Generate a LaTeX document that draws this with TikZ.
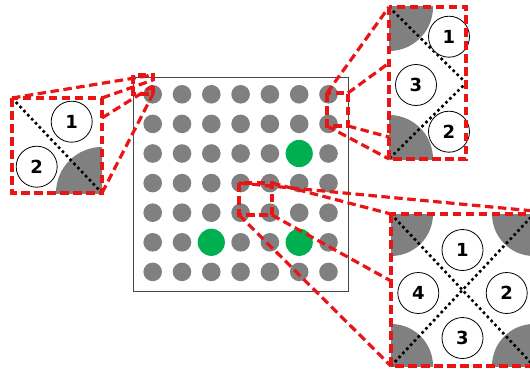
\documentclass[tikz,border=0pt]{standalone}
\usepackage{fontspec}
\setmainfont{DejaVu Sans}
\definecolor{dotgrey}{RGB}{128,128,128}
\definecolor{dotgreen}{RGB}{0,176,80}
\definecolor{zoomred}{RGB}{235,20,20}
\definecolor{frame}{RGB}{70,70,70}
\begin{document}
\begin{tikzpicture}[x=1pt,y=-1pt,
  reddash/.style={draw=zoomred,line width=3.2pt,dash pattern=on 8.5pt off 4.5pt},
  blackdots/.style={draw=black,line width=2.6pt,dash pattern=on 2.6pt off 3pt},
  numc/.style={circle,draw=black,line width=0.8pt,fill=white,minimum size=41pt,inner sep=0pt,
    font=\fontsize{18}{18}\selectfont\bfseries},
  greydot/.style={fill=dotgrey},
  greendot/.style={fill=dotgreen}]
\useasboundingbox (0,0) rectangle (530,369);
% main square
\draw[frame,line width=0.8pt] (133,77) rectangle (348,291);
\foreach \i in {0,...,6}{\foreach \j in {0,...,6}{
  \fill[greydot] ({152.7+29.3*\i},{94.3+29.6*\j}) circle (9.3);}}
\fill[greendot] (299.2,153.5) circle (13.6);
\fill[greendot] (211.3,242.3) circle (13.6);
\fill[greendot] (299.2,242.3) circle (13.6);

% ---------- left inset ----------
\coordinate (LTL) at (12,98); \coordinate (LTR) at (102,98);
\coordinate (LBR) at (102,193); \coordinate (LBL) at (12,193);
\coordinate (LR1) at (102,118);
\coordinate (sLTL) at (133,75); \coordinate (sLTR) at (153,75);
\coordinate (sLBR) at (153,94); \coordinate (sLBL) at (133,94);
\coordinate (sLR1) at (153,80); \coordinate (sLR2) at (153,86);
\begin{scope}
  \clip (LTL) rectangle (LBR);
  \fill[greydot] (LBR) circle (46);
\end{scope}
\draw[blackdots] (LTL) -- (LBR);
\node[numc] (l1) at (71.7,121.7) {1};
\node[numc] (l2) at (36.7,166.7) {2};
\draw[reddash] (LTL) rectangle (LBR);
\draw[reddash] (sLTL) rectangle (sLBR);
\draw[reddash] (LTL) -- (sLTR);
\draw[reddash] (LTR) -- (sLR1);
\draw[reddash] (LR1) -- (sLR2);
\draw[reddash] (LBR) -- (sLBR);

% ---------- top-right inset ----------
\coordinate (TTL) at (389,7); \coordinate (TTR) at (466,7);
\coordinate (TBR) at (466,159); \coordinate (TBL) at (389,159);
\coordinate (TRM) at (466,83);
\coordinate (TL1) at (389,63); \coordinate (TL2) at (389,137);
\coordinate (sTTL) at (327,93); \coordinate (sTTR) at (348,93);
\coordinate (sTBR) at (348,126); \coordinate (sTBL) at (327,126);
\begin{scope}
  \clip (TTL) rectangle (TBR);
  \fill[greydot] (TTL) circle (44);
  \fill[greydot] (TBL) circle (44);
\end{scope}
\draw[blackdots] (TTL) -- (TRM) -- (TBL);
\node[numc] (t1) at (449,36.7) {1};
\node[numc] (t3) at (416,85) {3};
\node[numc] (t2) at (449,131.7) {2};
\draw[reddash] (TTL) rectangle (TBR);
\draw[reddash] (sTTL) rectangle (sTBR);
\draw[reddash] (sTTL) -- (TTL);
\draw[reddash] (sTTR) -- (TL1);
\draw[reddash] (sTBR) -- (TL2);
\draw[reddash] (sTBL) -- (TBL);

% ---------- bottom-right inset ----------
\coordinate (BTL) at (391,214); \coordinate (BTR) at (534,214);
\coordinate (BBR) at (534,366); \coordinate (BBL) at (391,366);
\coordinate (BTRx) at (534,211); \coordinate (BLM) at (391,281);
\coordinate (sBTL) at (239,183); \coordinate (sBTR) at (272,183);
\coordinate (sBBR) at (272,215); \coordinate (sBBL) at (239,215);
\begin{scope}
  \clip (BTL) rectangle (BBR);
  \fill[greydot] (BTL) circle (42);
  \fill[greydot] (BTR) circle (42);
  \fill[greydot] (BBR) circle (42);
  \fill[greydot] (BBL) circle (42);
\end{scope}
\draw[blackdots] (BTL) -- (BBR);
\draw[blackdots] (BBL) -- (BTR);
\node[numc] (b1) at (462.5,250) {1};
\node[numc] (b2) at (506.7,293) {2};
\node[numc] (b3) at (462.5,338) {3};
\node[numc] (b4) at (418.3,293) {4};
\draw[reddash] (BTL) rectangle (BBR);
\draw[reddash] (sBTL) rectangle (sBBR);
\draw[reddash] (sBTL) -- (BTRx);
\draw[reddash] (sBTR) -- (BTL);
\draw[reddash] (sBBR) -- (BLM);
\draw[reddash] (sBBL) -- (BBL);
\end{tikzpicture}
\end{document}
